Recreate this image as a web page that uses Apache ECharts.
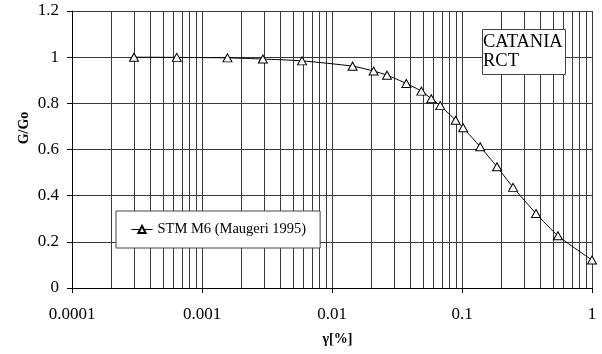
<!DOCTYPE html>
<html>
<head>
<meta charset="utf-8">
<script src="https://cdn.jsdelivr.net/npm/echarts@6/dist/echarts.min.js"></script>
<style>
    html, body { margin: 0; padding: 0; background: #fff; }
    #chart { width: 602px; height: 354px; }
</style>
</head>
<body>
<div id="chart"></div>
<script>
// strain gamma [%] and G/Go
const strainValues = [0.0003, 0.00064, 0.00157, 0.00294, 0.00588, 0.0144, 0.0209, 0.0265, 0.0373, 0.0487,
    0.058, 0.068, 0.0893, 0.102, 0.138, 0.186, 0.247, 0.371, 0.547, 1.0];
const ratioValues = [1.0, 0.999, 0.997, 0.992, 0.984, 0.961, 0.94, 0.922, 0.886, 0.853,
    0.82, 0.79, 0.727, 0.694, 0.612, 0.525, 0.436, 0.323, 0.226, 0.121];
const seriesName = 'STM M6 (Maugeri 1995)';
const xTickLabels = ['0.0001', '0.001', '0.01', '0.1', '1'];
const decades = [0.0001, 0.001, 0.01, 0.1];
const minorSteps = [2, 3, 4, 5, 6, 7, 8, 9];

const serif = '"Liberation Serif", "Times New Roman", serif';
const gridColor = '#3a3a3a';

// minor vertical grid lines (2..9 in each decade), drawn through the axes
let minorLines = [];
decades.forEach(d => {
    minorSteps.forEach(m => {
        let x = d * m;
        minorLines.push({ coords: [[x, 0], [x, 1.2]] });
    });
});

var chart = echarts.init(document.getElementById('chart'));
var option = {
    animation: false,
    backgroundColor: '#fff',
    title: {
        text: 'CATANIA\nRCT',
        left: 482,
        top: 29,
        padding: [4, 3, 4, 1],
        backgroundColor: '#fff',
        borderColor: '#444',
        borderWidth: 1,
        textStyle: {
            fontFamily: serif,
            fontSize: 18.5,
            fontWeight: 'normal',
            lineHeight: 19,
            color: '#000'
        }
    },
    legend: {
        data: [seriesName],
        left: 116,
        top: 211,
        padding: [11, 14, 11, 15],
        backgroundColor: '#fff',
        borderColor: '#444',
        borderWidth: 1,
        itemWidth: 21,
        itemHeight: 9,
        itemGap: 3,
        lineStyle: { width: 1 },
        textStyle: {
            fontFamily: serif,
            fontSize: 14.5,
            color: '#000'
        }
    },
    grid: {
        left: 72,
        right: 10,
        top: 11,
        bottom: 66
    },
    xAxis: {
        type: 'log',
        logBase: 10,
        min: 0.0001,
        max: 1,
        splitNumber: 4,
        name: 'γ[%]',
        nameLocation: 'middle',
        nameGap: 44,
        nameTextStyle: {
            fontFamily: serif,
            fontSize: 14,
            fontWeight: 'bold',
            color: '#000',
            padding: [0, 0, 0, 11]
        },
        axisLine: { lineStyle: { color: '#000', width: 1 } },
        axisTick: { show: true, inside: false, length: 5, lineStyle: { color: '#000' } },
        axisLabel: {
            margin: 18,
            fontFamily: serif,
            fontSize: 17,
            color: '#000',
            formatter: function (value) {
                let i = Math.round(Math.log10(value)) + 4;
                return xTickLabels[i] || '';
            }
        },
        splitLine: { show: true, lineStyle: { color: gridColor, width: 1 } }
    },
    yAxis: {
        type: 'value',
        min: 0,
        max: 1.2,
        interval: 0.2,
        axisLine: { show: true, lineStyle: { color: '#000', width: 1 } },
        axisTick: { show: true, inside: false, length: 5, lineStyle: { color: '#000' } },
        axisLabel: {
            margin: 13,
            fontFamily: serif,
            fontSize: 17,
            color: '#000'
        },
        splitLine: { show: true, lineStyle: { color: gridColor, width: 1 } }
    },
    graphic: [{
        type: 'text',
        x: 24,
        y: 128,
        rotation: Math.PI / 2,
        style: {
            text: 'G/Go',
            fontFamily: serif,
            fontSize: 14,
            fontWeight: 'bold',
            fill: '#000',
            align: 'center',
            verticalAlign: 'middle'
        }
    }],
    series: [
        {
            // minor grid lines of the log axis
            type: 'lines',
            coordinateSystem: 'cartesian2d',
            z: 1,
            silent: true,
            lineStyle: { color: gridColor, width: 1, opacity: 1 },
            data: minorLines
        },
        {
            type: 'line',
            name: seriesName,
            z: 3,
            data: strainValues.map((x, i) => [x, ratioValues[i]]),
            smooth: 0.2,
            symbol: 'triangle',
            symbolSize: [9, 8],
            showAllSymbol: true,
            lineStyle: { color: '#000', width: 1 },
            itemStyle: { color: '#fff', borderColor: '#000', borderWidth: 1 }
        }
    ]
};
chart.setOption(option);
</script>
</body>
</html>
